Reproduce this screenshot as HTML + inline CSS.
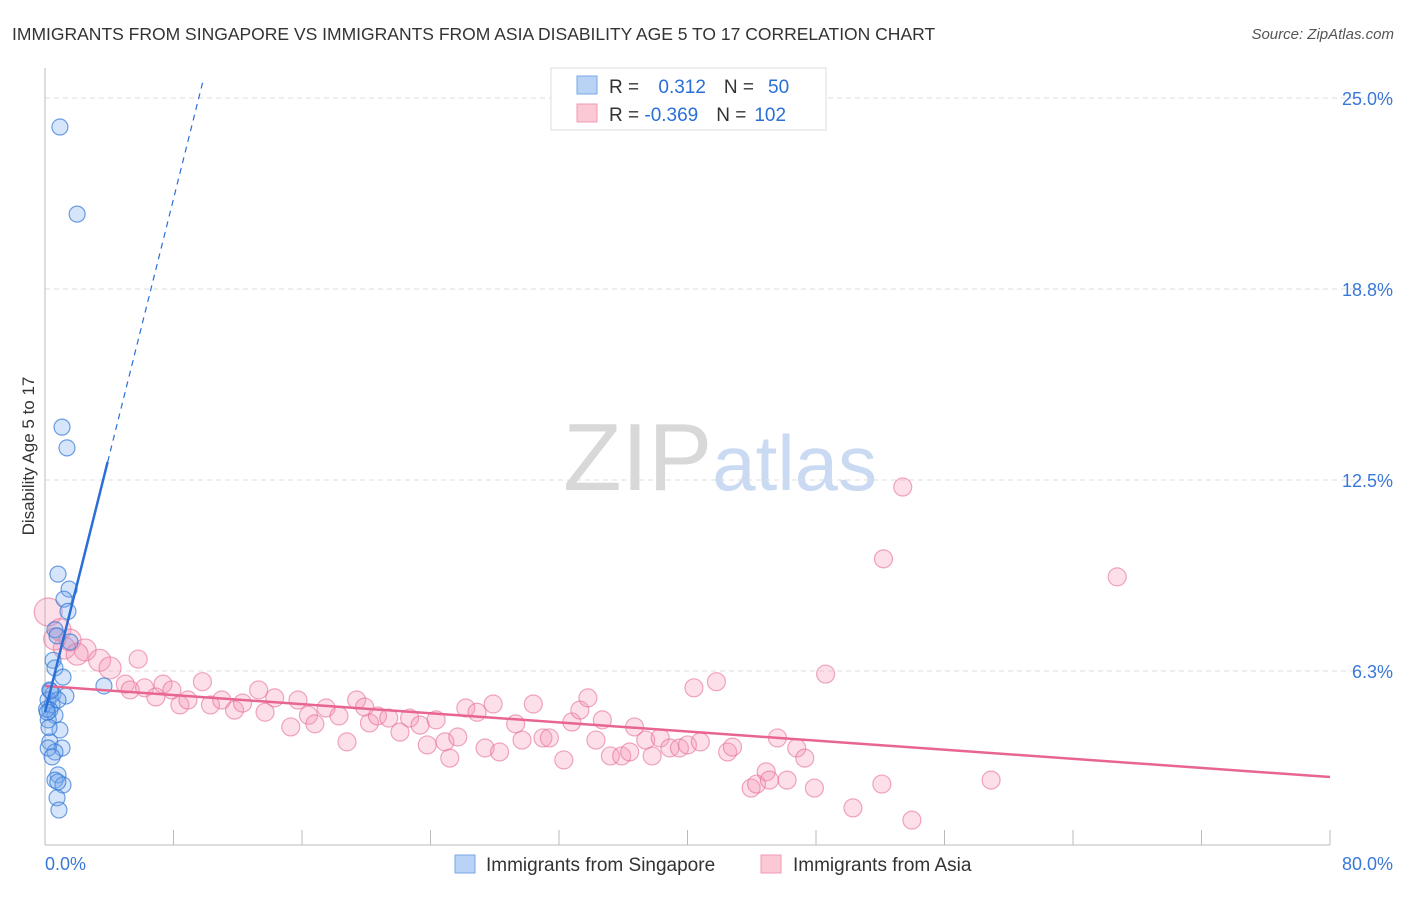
<!DOCTYPE html>
<html><head><meta charset="utf-8"><style>
body{margin:0;background:#fff;font-family:"Liberation Sans",sans-serif;}
svg text{font-family:"Liberation Sans",sans-serif;}
</style></head><body>
<svg id="chart" width="1406" height="892" xmlns="http://www.w3.org/2000/svg">
<text x="12" y="40" font-size="17.5" fill="#333">IMMIGRANTS FROM SINGAPORE VS IMMIGRANTS FROM ASIA DISABILITY AGE 5 TO 17 CORRELATION CHART</text>
<text x="1394" y="39" font-size="15" fill="#555" text-anchor="end" font-style="italic">Source: ZipAtlas.com</text>
<text x="720" y="490" font-size="96" text-anchor="middle" fill="#ddd" font-family="Liberation Serif"><tspan fill="#d8d8d8">ZIP</tspan><tspan fill="#c9daf2" font-family="Liberation Sans" font-size="78">atlas</tspan></text>
<g id="grid"></g><g id="axes"></g><g id="pts"></g><g id="lines"></g>
<text transform="translate(34,456) rotate(-90)" font-size="17" fill="#333" text-anchor="middle">Disability Age 5 to 17</text>
<g>
<rect x="551" y="68" width="275" height="62" fill="#fff" stroke="#ddd"/>
<rect x="577" y="76" width="20" height="18" fill="#b8d3f5" stroke="#7aa8e8"/>
<rect x="577" y="104" width="20" height="18" fill="#fbc8d6" stroke="#f09ab4"/>
<text x="609" y="93" font-size="19" fill="#333">R = <tspan fill="#2a6fd6" dx="14">0.312</tspan><tspan dx="18" fill="#333">N =</tspan><tspan dx="14" fill="#2a6fd6">50</tspan></text>
<text x="609" y="121" font-size="19" fill="#333">R = <tspan fill="#2a6fd6">-0.369</tspan><tspan dx="18" fill="#333">N =</tspan><tspan dx="8" fill="#2a6fd6">102</tspan></text>
</g>
<g>
<rect x="455" y="855" width="20" height="18" fill="#b8d3f5" stroke="#7aa8e8"/>
<text x="486" y="871" font-size="19" fill="#333">Immigrants from Singapore</text>
<rect x="761" y="855" width="20" height="18" fill="#fbc8d6" stroke="#f09ab4"/>
<text x="793" y="871" font-size="19" fill="#333">Immigrants from Asia</text>
</g>
</svg>
<script>
const yTicks=[25,18.75,12.5,6.25];
const yTickLabels=["25.0%","18.8%","12.5%","6.3%"];
const xTickVals=[0,8,16,24,32,40,48,56,64,72,80];
const blueX=[0.93,2.0,1.06,1.37,0.81,1.5,1.18,1.43,0.62,0.75,1.56,0.5,0.62,1.12,0.3,0.5,1.3,3.67,0.19,0.44,0.81,0.3,0.62,0.2,0.93,0.3,1.06,0.62,0.2,0.44,0.81,0.62,1.12,0.75,0.87,0.8,0.1,0.15,0.35,0.25];
const blueY=[24.05,21.2,14.23,13.55,9.42,8.93,8.6,8.2,7.6,7.4,7.2,6.6,6.35,6.05,5.63,5.5,5.43,5.76,5.3,5.14,5.3,4.97,4.8,4.65,4.32,3.93,3.73,3.6,3.73,3.44,2.85,2.68,2.52,2.1,1.7,2.62,5.0,4.9,5.6,4.4];
const pinkX=[0.2,0.93,1.56,2.5,3.4,4.05,5.8,5.0,5.3,6.2,6.9,7.35,7.9,8.4,8.9,9.8,10.3,11.0,11.8,12.3,13.3,13.7,14.3,15.3,15.75,16.4,16.8,17.5,18.3,18.8,19.4,19.9,20.2,20.7,21.4,22.1,22.7,23.35,24.35,23.8,24.9,25.2,25.7,26.2,26.9,27.4,27.9,28.3,29.3,29.7,30.4,31.0,31.4,32.3,32.8,33.3,33.8,34.3,34.7,35.2,35.9,36.4,36.7,37.4,37.8,38.3,38.9,39.5,40.0,40.8,40.4,41.8,42.5,42.8,43.96,44.3,44.9,45.1,45.6,46.2,46.8,47.3,47.9,48.6,50.3,52.1,52.2,53.4,53.97,58.9,66.75,1.2,2.0,0.6];
const pinkY=[8.18,7.6,7.26,6.94,6.6,6.35,6.64,5.82,5.63,5.7,5.4,5.82,5.63,5.14,5.3,5.9,5.14,5.3,4.97,5.2,5.63,4.9,5.37,4.42,5.3,4.8,4.52,5.04,4.78,3.93,5.3,5.07,4.55,4.78,4.71,4.25,4.71,4.48,4.65,3.83,3.93,3.4,4.09,5.04,4.9,3.73,5.17,3.6,4.52,3.99,5.17,4.06,4.06,3.34,4.58,4.97,5.37,3.99,4.65,3.47,3.47,3.6,4.42,3.99,3.47,4.06,3.73,3.73,3.83,3.93,5.7,5.9,3.6,3.76,2.42,2.55,2.95,2.68,4.06,2.68,3.73,3.4,2.42,6.15,1.77,2.55,9.92,12.27,1.37,2.68,9.33,7.0,6.8,7.3];
const pinkTrend=[5.76,2.78];
const blueTrend=[4.9,2.1];
const NS='http://www.w3.org/2000/svg';
const X=v=>45+v/80*1285, Y=v=>862-v*30.56;
function mk(t,a,p){const e=document.createElementNS(NS,t);for(const k in a)e.setAttribute(k,a[k]);p.appendChild(e);return e;}
const grid=document.getElementById('grid'),axes=document.getElementById('axes'),pts=document.getElementById('pts'),lines=document.getElementById('lines');
yTicks.forEach((v,i)=>{
 const l=mk('line',{x1:45,x2:1392,y1:Y(v),y2:Y(v),stroke:'#ddd','stroke-dasharray':'5,4'},grid);
 
 
 const t=mk('text',{x:1393,y:Y(v)+7,'font-size':18,fill:'#3a78d8','text-anchor':'end'},axes);
 t.textContent=yTickLabels[i];
 
 
});
const ax=mk('line',{x1:45,x2:45,y1:68,y2:845,stroke:'#bbb'},axes);


const xa=mk('line',{x1:45,x2:1330,y1:845,y2:845,stroke:'#bbb'},axes);


xTickVals.forEach(v=>{
 const t=mk('line',{x1:X(v),x2:X(v),y1:830,y2:845,stroke:'#bbb'},axes);
 
 
});
const xl=mk('text',{x:45,y:870,'font-size':18,fill:'#3a78d8'},axes);xl.textContent='0.0%';


const xr=mk('text',{x:1393,y:870,'font-size':18,fill:'#3a78d8','text-anchor':'end'},axes);xr.textContent='80.0%';


pinkX.forEach((v,i)=>{
 const big=v<5&&pinkY[i]>6;
 const c=mk('circle',{cx:X(v),cy:Y(pinkY[i]),r:big?(v<0.5?14:11):9,fill:'rgba(245,150,180,0.3)',stroke:'rgba(230,110,150,0.6)','stroke-width':1.2},pts);
 
 
});
blueX.forEach((v,i)=>{
 const c=mk('circle',{cx:X(v),cy:Y(blueY[i]),r:8,fill:'rgba(120,170,235,0.3)',stroke:'rgba(50,120,215,0.7)','stroke-width':1.2},pts);
 
 
});
const pl=mk('line',{x1:X(0),y1:Y(pinkTrend[0]),x2:X(80),y2:Y(pinkTrend[1]),stroke:'#e8658f','stroke-width':2.5},lines);


const bs=mk('line',{x1:X(0),y1:Y(blueTrend[0]),x2:X(3.9),y2:Y(blueTrend[0]+blueTrend[1]*3.9),stroke:'#2a6fd6','stroke-width':2.5},lines);


const xe=(25.5-blueTrend[0])/blueTrend[1];
const bd=mk('line',{x1:X(3.9),y1:Y(blueTrend[0]+blueTrend[1]*3.9),x2:X(xe),y2:Y(25.5),stroke:'#2a6fd6','stroke-width':1.2,'stroke-dasharray':'6,5'},lines);


</script>
</body></html>
